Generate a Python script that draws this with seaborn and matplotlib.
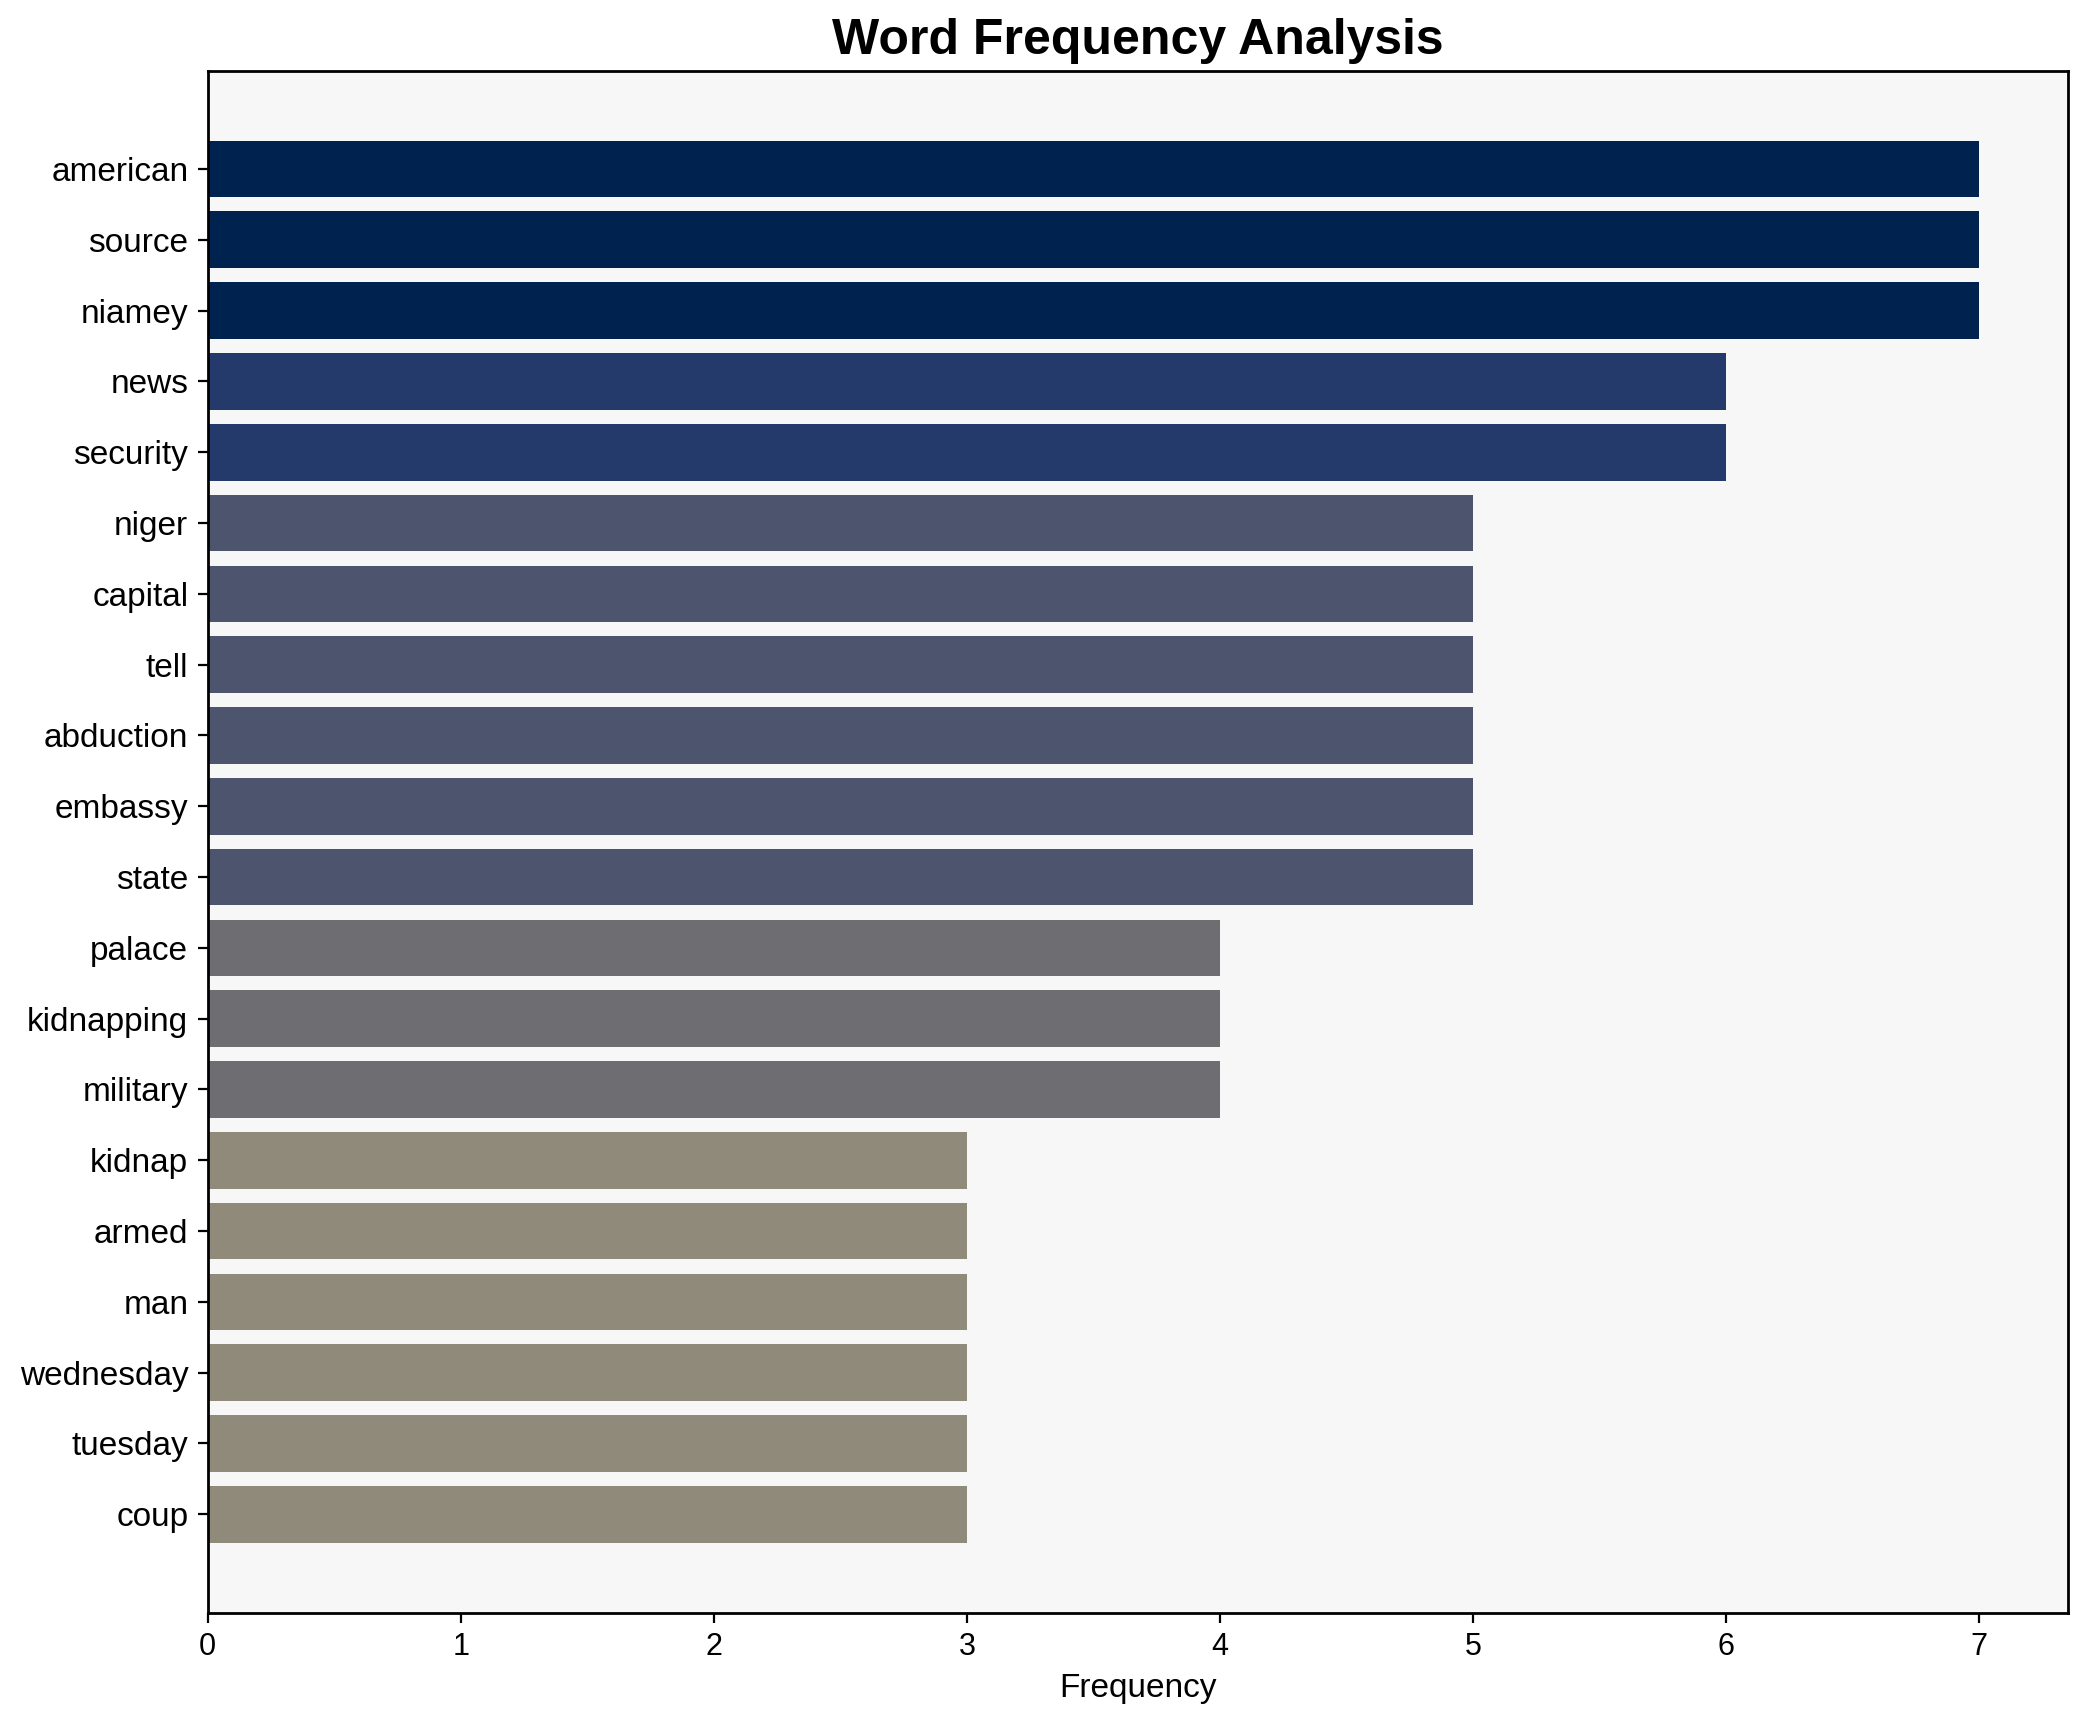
import matplotlib
matplotlib.use("Agg")
import matplotlib.pyplot as plt
import seaborn as sns
import pandas as pd

# word counts
words = ['american', 'source', 'niamey', 'news', 'security', 'niger', 'capital',
         'tell', 'abduction', 'embassy', 'state', 'palace', 'kidnapping',
         'military', 'kidnap', 'armed', 'man', 'wednesday', 'tuesday', 'coup']
counts = [7, 7, 7, 6, 6, 5, 5, 5, 5, 5, 5, 4, 4, 4, 3, 3, 3, 3, 3, 3]

# colour per frequency level
level_colors = {7: '#00224f', 6: '#233a6b', 5: '#4c556d', 4: '#6d6d72', 3: '#8f8a79'}

plt.rcParams['font.family'] = ['Liberation Sans', 'DejaVu Sans']

df = pd.DataFrame({'word': words, 'count': counts})
palette = {w: level_colors[c] for w, c in zip(words, counts)}

fig, ax = plt.subplots(figsize=(10.44, 8.61), dpi=200)
ax.set_facecolor('#f7f7f7')

sns.barplot(data=df, x='count', y='word', hue='word', palette=palette,
            legend=False, saturation=1, width=0.8, orient='h', ax=ax)

# matplotlib-style default margins instead of seaborn's tight limits
n = len(words)
lo, hi = -0.4, n - 1 + 0.4
pad = 0.05 * (hi - lo)
ax.set_ylim(hi + pad, lo - pad)
ax.set_xlim(0, max(counts) * 1.05)

ax.set_title('Word Frequency Analysis', fontsize=18, fontweight='bold')
ax.set_xlabel('Frequency', fontsize=12)
ax.set_ylabel('')
ax.tick_params(axis='y', labelsize=12)
ax.tick_params(axis='x', labelsize=11)
for s in ax.spines.values():
    s.set_color('black')
    s.set_linewidth(1)

fig.subplots_adjust(left=0.0995, right=0.9904, top=0.959, bottom=0.0635)
plt.savefig('out.png', dpi=200)
